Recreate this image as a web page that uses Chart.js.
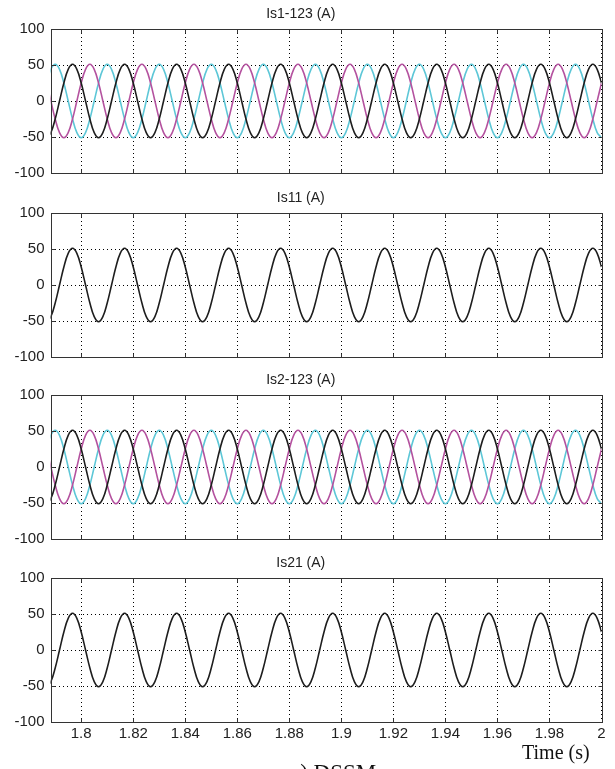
<!DOCTYPE html>
<html>
<head>
<meta charset="utf-8">
<script src="https://cdn.jsdelivr.net/npm/chart.js@4.4.1/dist/chart.umd.min.js"></script>
<style>
  html, body { margin: 0; padding: 0; background: #fff; }
  body { width: 615px; height: 769px; position: relative; overflow: hidden; }
  canvas { position: absolute; left: 0; }
  .lbl { position: absolute; font-family: "Liberation Serif", "Times New Roman", serif; color: #111; white-space: nowrap; }
</style>
</head>
<body>
<canvas id="p1"></canvas>
<canvas id="p2"></canvas>
<canvas id="p3"></canvas>
<canvas id="p4"></canvas>
<div class="lbl" style="left:522px; top:742px; font-size:20px; line-height:20px;">Time (s)</div>
<div class="lbl" style="left:290px; top:761px; font-size:23px; line-height:23px;">a) DSSM</div>
<script>
// samples every 1/600 s (one row = one 20 ms cycle)
const tStart = 1.78667;
const tStep = 1 / 600;
const xMin = 1.7882, xMax = 2.0;
const xTicks = [1.8, 1.82, 1.84, 1.86, 1.88, 1.9, 1.92, 1.94, 1.96, 1.98, 2.0];
const yTicks = [-100, -50, 0, 50, 100];

const is1a = [
  -51, -44, -25, 0, 25, 44, 51, 44, 25, 0, -25, -44,
  -51, -44, -25, 0, 25, 44, 51, 44, 25, 0, -25, -44,
  -51, -44, -25, 0, 25, 44, 51, 44, 25, 0, -25, -44,
  -51, -44, -25, 0, 25, 44, 51, 44, 25, 0, -25, -44,
  -51, -44, -25, 0, 25, 44, 51, 44, 25, 0, -25, -44,
  -51, -44, -25, 0, 25, 44, 51, 44, 25, 0, -25, -44,
  -51, -44, -25, 0, 25, 44, 51, 44, 25, 0, -25, -44,
  -51, -44, -25, 0, 25, 44, 51, 44, 25, 0, -25, -44,
  -51, -44, -25, 0, 25, 44, 51, 44, 25, 0, -25, -44,
  -51, -44, -25, 0, 25, 44, 51, 44, 25, 0, -25, -44,
  -51, -44, -25, 0, 25, 44, 51, 44, 25
];
const is1b = [
  25, 0, -25, -44, -51, -44, -25, 0, 25, 44, 51, 44,
  25, 0, -25, -44, -51, -44, -25, 0, 25, 44, 51, 44,
  25, 0, -25, -44, -51, -44, -25, 0, 25, 44, 51, 44,
  25, 0, -25, -44, -51, -44, -25, 0, 25, 44, 51, 44,
  25, 0, -25, -44, -51, -44, -25, 0, 25, 44, 51, 44,
  25, 0, -25, -44, -51, -44, -25, 0, 25, 44, 51, 44,
  25, 0, -25, -44, -51, -44, -25, 0, 25, 44, 51, 44,
  25, 0, -25, -44, -51, -44, -25, 0, 25, 44, 51, 44,
  25, 0, -25, -44, -51, -44, -25, 0, 25, 44, 51, 44,
  25, 0, -25, -44, -51, -44, -25, 0, 25, 44, 51, 44,
  25, 0, -25, -44, -51, -44, -25, 0, 25
];
const is1c = [
  25, 44, 51, 44, 25, 0, -25, -44, -51, -44, -25, 0,
  25, 44, 51, 44, 25, 0, -25, -44, -51, -44, -25, 0,
  25, 44, 51, 44, 25, 0, -25, -44, -51, -44, -25, 0,
  25, 44, 51, 44, 25, 0, -25, -44, -51, -44, -25, 0,
  25, 44, 51, 44, 25, 0, -25, -44, -51, -44, -25, 0,
  25, 44, 51, 44, 25, 0, -25, -44, -51, -44, -25, 0,
  25, 44, 51, 44, 25, 0, -25, -44, -51, -44, -25, 0,
  25, 44, 51, 44, 25, 0, -25, -44, -51, -44, -25, 0,
  25, 44, 51, 44, 25, 0, -25, -44, -51, -44, -25, 0,
  25, 44, 51, 44, 25, 0, -25, -44, -51, -44, -25, 0,
  25, 44, 51, 44, 25, 0, -25, -44, -51
];
const is11 = [
  -51, -44, -25, 0, 25, 44, 51, 44, 25, 0, -25, -44,
  -51, -44, -25, 0, 25, 44, 51, 44, 25, 0, -25, -44,
  -51, -44, -25, 0, 25, 44, 51, 44, 25, 0, -25, -44,
  -51, -44, -25, 0, 25, 44, 51, 44, 25, 0, -25, -44,
  -51, -44, -25, 0, 25, 44, 51, 44, 25, 0, -25, -44,
  -51, -44, -25, 0, 25, 44, 51, 44, 25, 0, -25, -44,
  -51, -44, -25, 0, 25, 44, 51, 44, 25, 0, -25, -44,
  -51, -44, -25, 0, 25, 44, 51, 44, 25, 0, -25, -44,
  -51, -44, -25, 0, 25, 44, 51, 44, 25, 0, -25, -44,
  -51, -44, -25, 0, 25, 44, 51, 44, 25, 0, -25, -44,
  -51, -44, -25, 0, 25, 44, 51, 44, 25
];
const is2a = [
  -51, -44, -25, 0, 25, 44, 51, 44, 25, 0, -25, -44,
  -51, -44, -25, 0, 25, 44, 51, 44, 25, 0, -25, -44,
  -51, -44, -25, 0, 25, 44, 51, 44, 25, 0, -25, -44,
  -51, -44, -25, 0, 25, 44, 51, 44, 25, 0, -25, -44,
  -51, -44, -25, 0, 25, 44, 51, 44, 25, 0, -25, -44,
  -51, -44, -25, 0, 25, 44, 51, 44, 25, 0, -25, -44,
  -51, -44, -25, 0, 25, 44, 51, 44, 25, 0, -25, -44,
  -51, -44, -25, 0, 25, 44, 51, 44, 25, 0, -25, -44,
  -51, -44, -25, 0, 25, 44, 51, 44, 25, 0, -25, -44,
  -51, -44, -25, 0, 25, 44, 51, 44, 25, 0, -25, -44,
  -51, -44, -25, 0, 25, 44, 51, 44, 25
];
const is2b = [
  25, 0, -25, -44, -51, -44, -25, 0, 25, 44, 51, 44,
  25, 0, -25, -44, -51, -44, -25, 0, 25, 44, 51, 44,
  25, 0, -25, -44, -51, -44, -25, 0, 25, 44, 51, 44,
  25, 0, -25, -44, -51, -44, -25, 0, 25, 44, 51, 44,
  25, 0, -25, -44, -51, -44, -25, 0, 25, 44, 51, 44,
  25, 0, -25, -44, -51, -44, -25, 0, 25, 44, 51, 44,
  25, 0, -25, -44, -51, -44, -25, 0, 25, 44, 51, 44,
  25, 0, -25, -44, -51, -44, -25, 0, 25, 44, 51, 44,
  25, 0, -25, -44, -51, -44, -25, 0, 25, 44, 51, 44,
  25, 0, -25, -44, -51, -44, -25, 0, 25, 44, 51, 44,
  25, 0, -25, -44, -51, -44, -25, 0, 25
];
const is2c = [
  25, 44, 51, 44, 25, 0, -25, -44, -51, -44, -25, 0,
  25, 44, 51, 44, 25, 0, -25, -44, -51, -44, -25, 0,
  25, 44, 51, 44, 25, 0, -25, -44, -51, -44, -25, 0,
  25, 44, 51, 44, 25, 0, -25, -44, -51, -44, -25, 0,
  25, 44, 51, 44, 25, 0, -25, -44, -51, -44, -25, 0,
  25, 44, 51, 44, 25, 0, -25, -44, -51, -44, -25, 0,
  25, 44, 51, 44, 25, 0, -25, -44, -51, -44, -25, 0,
  25, 44, 51, 44, 25, 0, -25, -44, -51, -44, -25, 0,
  25, 44, 51, 44, 25, 0, -25, -44, -51, -44, -25, 0,
  25, 44, 51, 44, 25, 0, -25, -44, -51, -44, -25, 0,
  25, 44, 51, 44, 25, 0, -25, -44, -51
];
const is21 = [
  -51, -44, -25, 0, 25, 44, 51, 44, 25, 0, -25, -44,
  -51, -44, -25, 0, 25, 44, 51, 44, 25, 0, -25, -44,
  -51, -44, -25, 0, 25, 44, 51, 44, 25, 0, -25, -44,
  -51, -44, -25, 0, 25, 44, 51, 44, 25, 0, -25, -44,
  -51, -44, -25, 0, 25, 44, 51, 44, 25, 0, -25, -44,
  -51, -44, -25, 0, 25, 44, 51, 44, 25, 0, -25, -44,
  -51, -44, -25, 0, 25, 44, 51, 44, 25, 0, -25, -44,
  -51, -44, -25, 0, 25, 44, 51, 44, 25, 0, -25, -44,
  -51, -44, -25, 0, 25, 44, 51, 44, 25, 0, -25, -44,
  -51, -44, -25, 0, 25, 44, 51, 44, 25, 0, -25, -44,
  -51, -44, -25, 0, 25, 44, 51, 44, 25
];

const BLACK = '#1e1e1e', MAGENTA = '#b4529f', CYAN = '#5dc7d7';
const sans = 'Liberation Sans, Arial, Helvetica, sans-serif';

// matlab style frame with inward ticks
const boxPlugin = {
  id: 'box',
  afterDatasetsDraw(chart) {
    const { ctx, chartArea: a, scales: { x, y } } = chart;
    const L = Math.round(a.left) + 0.5, R = Math.round(a.right) + 0.5;
    const T = Math.round(a.top) + 0.5, B = Math.round(a.bottom) + 0.5;
    ctx.save();
    ctx.setLineDash([]);
    ctx.strokeStyle = '#333';
    ctx.lineWidth = 1;
    ctx.beginPath();
    xTicks.forEach(v => {
      const px = Math.round(x.getPixelForValue(v)) + 0.5;
      ctx.moveTo(px, T); ctx.lineTo(px, T + 4);
      ctx.moveTo(px, B); ctx.lineTo(px, B - 4);
    });
    yTicks.forEach(v => {
      const py = Math.round(y.getPixelForValue(v)) + 0.5;
      ctx.moveTo(L, py); ctx.lineTo(L + 4, py);
      ctx.moveTo(R, py); ctx.lineTo(R - 4, py);
    });
    ctx.stroke();
    ctx.strokeRect(L, T, R - L, B - T);
    ctx.restore();
  }
};

function panel(id, top, height, title, series, showX) {
  const cv = document.getElementById(id);
  cv.width = 615;
  cv.height = height;
  cv.style.top = top + 'px';
  new Chart(cv, {
    type: 'line',
    data: {
      datasets: series.map(s => ({
        data: s.values.map((v, i) => ({ x: tStart + i * tStep, y: v })),
        borderColor: s.color,
        borderWidth: 1.6,
        pointRadius: 0,
        tension: 0.4,
        fill: false
      }))
    },
    options: {
      responsive: false,
      animation: false,
      devicePixelRatio: 1,
      layout: { autoPadding: false, padding: { left: 0, right: 13.5, top: 0, bottom: 0 } },
      plugins: {
        legend: { display: false },
        tooltip: { enabled: false },
        title: {
          display: true,
          text: title,
          color: '#222',
          font: { family: sans, size: 14, weight: 'normal' },
          padding: { top: 6, bottom: 6.2 }
        }
      },
      scales: {
        x: {
          type: 'linear',
          min: xMin,
          max: xMax,
          afterBuildTicks: s => { s.ticks = xTicks.map(v => ({ value: v })); },
          afterFit: s => {
            s.height = showX ? 47 : 10;
            s.paddingLeft = 0; s.paddingRight = 0;
          },
          grid: { drawTicks: false, color: '#000', lineWidth: 1 },
          border: { display: false, dash: [1, 3] },
          ticks: {
            display: showX,
            autoSkip: false,
            maxRotation: 0,
            padding: 3,
            color: '#222',
            font: { family: sans, size: 15 },
            callback: v => String(+v.toFixed(2))
          }
        },
        y: {
          min: -100,
          max: 100,
          afterBuildTicks: s => { s.ticks = yTicks.map(v => ({ value: v })); },
          afterFit: s => {
            s.width = 50.5;
            s.paddingTop = 0; s.paddingBottom = 0;
          },
          grid: { drawTicks: false, color: '#000', lineWidth: 1 },
          border: { display: false, dash: [1, 3] },
          ticks: {
            padding: 6,
            color: '#222',
            font: { family: sans, size: 15 }
          }
        }
      }
    },
    plugins: [boxPlugin]
  });
}

panel('p1', 0, 183, 'Is1-123 (A)', [
  { values: is1a, color: BLACK },
  { values: is1b, color: MAGENTA },
  { values: is1c, color: CYAN }
], false);
panel('p2', 184, 183, 'Is11 (A)', [{ values: is11, color: BLACK }], false);
panel('p3', 366, 183, 'Is2-123 (A)', [
  { values: is2a, color: BLACK },
  { values: is2b, color: MAGENTA },
  { values: is2c, color: CYAN }
], false);
panel('p4', 549, 220, 'Is21 (A)', [{ values: is21, color: BLACK }], true);
</script>
</body>
</html>
